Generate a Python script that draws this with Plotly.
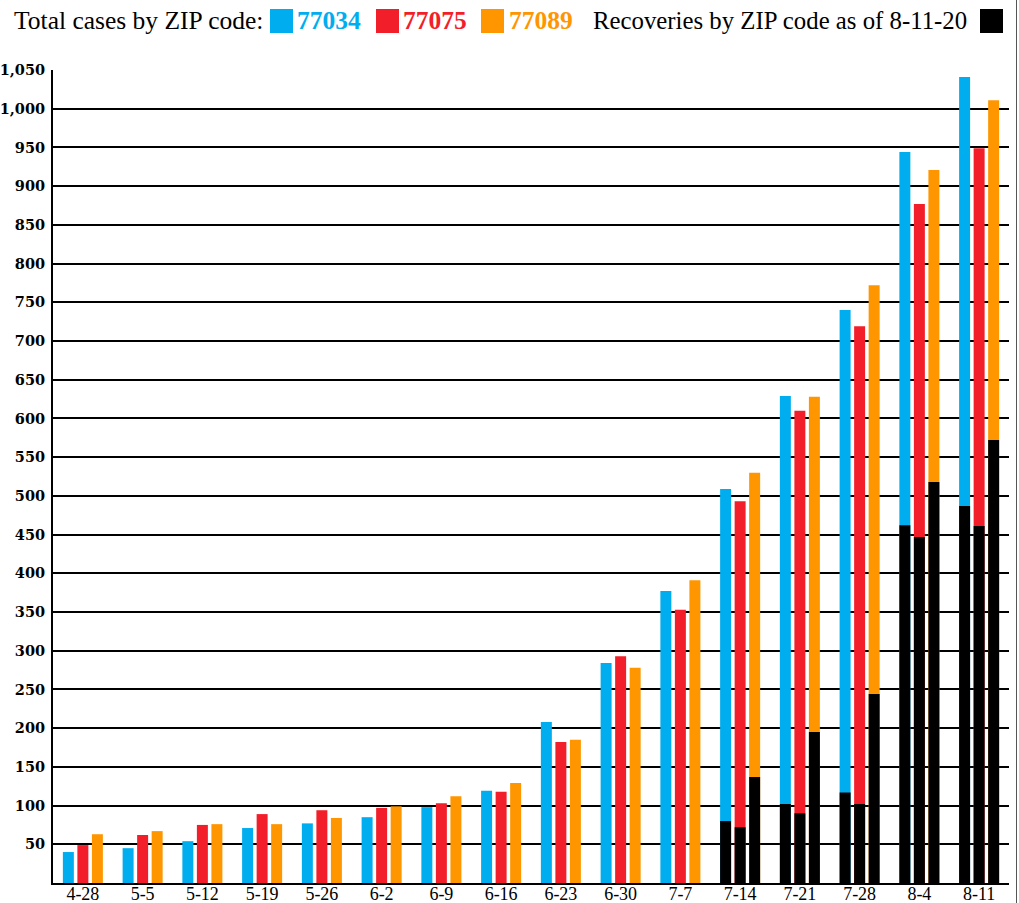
import plotly.graph_objects as go

dates = ["4-28", "5-5", "5-12", "5-19", "5-26", "6-2", "6-9", "6-16",
         "6-23", "6-30", "7-7", "7-14", "7-21", "7-28", "8-4", "8-11"]
cases_77034 = [40, 45, 54, 71, 77, 85, 98, 119, 208, 284, 377, 509, 629, 740, 944, 1041]
cases_77075 = [49, 62, 75, 89, 94, 97, 103, 118, 182, 293, 353, 493, 610, 719, 877, 949]
cases_77089 = [63, 67, 76, 76, 84, 99, 112, 129, 185, 278, 391, 530, 628, 772, 921, 1011]
rec_dates = ["7-14", "7-21", "7-28", "8-4", "8-11"]
rec_77034 = [80, 102, 117, 462, 487]
rec_77075 = [72, 90, 102, 447, 461]
rec_77089 = [137, 195, 244, 518, 572]
y_ticks = list(range(50, 1051, 50))

BLUE = "#00AEEF"
RED = "#F21F2A"
ORANGE = "#FF9600"
BLACK = "#000000"
FONT = "Liberation Serif"

W, H = 1019, 903
L, R, T, B = 53, 10, 70, 20
PW, PH = W - L - R, H - T - B


def px(x):
    return (x - L) / PW


def py(y):
    return (H - B - y) / PH


bw = 0.184
sp = 0.243
series = [
    (cases_77034, rec_77034, BLUE, -sp),
    (cases_77075, rec_77075, RED, 0.0),
    (cases_77089, rec_77089, ORANGE, sp),
]

fig = go.Figure()
for vals, rec, col, c in series:
    fig.add_trace(go.Bar(x=dates, y=vals, marker_color=col, marker_line_width=0,
                         width=bw, offset=c - bw / 2, showlegend=False,
                         hoverinfo="x+y"))
for vals, rec, col, c in series:
    fig.add_trace(go.Bar(x=rec_dates, y=rec, marker_color=BLACK, marker_line_width=0,
                         width=bw, offset=c - bw / 2, showlegend=False,
                         hoverinfo="x+y"))

fig.update_layout(
    template="none",
    width=W, height=H,
    margin=dict(l=L, r=R, t=T, b=B, pad=0, autoexpand=False),
    barmode="overlay",
    plot_bgcolor="white", paper_bgcolor="white",
    font=dict(family=FONT, color="black"),
    xaxis=dict(categoryorder="array", categoryarray=dates, range=[-0.5, 15.5],
               automargin=False,
               showline=True, linecolor="black", linewidth=2, ticks="",
               showgrid=False, zeroline=False, ticklabelstandoff=-7,
               tickfont=dict(family=FONT, size=18, color="black")),
    yaxis=dict(range=[0, 1050], tickvals=y_ticks, tickformat=",d",
               automargin=False,
               showgrid=True, gridcolor="black", gridwidth=2,
               showline=True, linecolor="black", linewidth=2, ticks="",
               zeroline=False, ticklabelstandoff=3,
               tickfont=dict(family="DejaVu Serif", size=14.5, color="black", weight="bold")),
)

# legend built from text and swatches
ly = py(21)
annos = [
    dict(x=px(12), y=ly, text="Total cases by ZIP code:", xanchor="left", font_size=25.5, font_color="black"),
    dict(x=px(295), y=ly, text="<b>77034</b>", xanchor="left", font_size=25.5, font_color=BLUE),
    dict(x=px(401), y=ly, text="<b>77075</b>", xanchor="left", font_size=25.5, font_color=RED),
    dict(x=px(507), y=ly, text="<b>77089</b>", xanchor="left", font_size=25.5, font_color=ORANGE),
    dict(x=px(591), y=ly, text="Recoveries by ZIP code as of 8-11-20", xanchor="left", font_size=24.8, font_color="black"),
]
for a in annos:
    fig.add_annotation(xref="paper", yref="paper", yanchor="middle", showarrow=False,
                       font_family=FONT, **a)

for x0, col in [(270, BLUE), (376, RED), (481, ORANGE), (980, BLACK)]:
    fig.add_shape(type="rect", xref="paper", yref="paper",
                  x0=px(x0), x1=px(x0 + 23), y0=py(33), y1=py(9),
                  fillcolor=col, line_width=0)

fig.add_shape(type="line", xref="paper", yref="paper",
              x0=px(1016.5), x1=px(1016.5), y0=py(903), y1=py(0),
              line=dict(color="#555555", width=1))

fig.write_html("out.html", config={"displayModeBar": False},
               post_script="document.body.style.margin='0';document.body.style.overflow='hidden';")
